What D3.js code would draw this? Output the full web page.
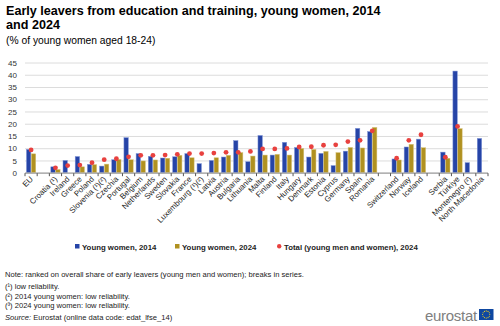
<!DOCTYPE html>
<html><head><meta charset="utf-8">
<script src="https://cdn.jsdelivr.net/npm/d3@7"></script>
<style>
body{margin:0;background:#fff;}
svg{display:block;font-family:"Liberation Sans",Arial,sans-serif;}
</style></head>
<body>
<svg id="c" width="500" height="326"></svg>
<script>
const categories = ["EU","","Croatia (¹)","Ireland","Greece","Poland","Slovenia (¹)(²)","Czechia","Portugal","Belgium","Netherlands","Sweden","Slovakia","France","Luxembourg (¹)(²)","Latvia","Austria","Bulgaria","Lithuania","Malta","Finland","Italy","Hungary","Denmark","Estonia","Cyprus","Germany","Spain","Romania","","Switzerland","Norway","Iceland","","Serbia","Türkiye","Montenegro (²)","North Macedonia"];
const women2014 = [9.5,null,2.4,5.0,6.6,3.4,2.7,5.3,14.3,7.8,6.7,6.0,6.5,7.8,3.7,5.0,6.4,13.1,4.5,15.2,7.2,12.4,10.3,6.4,7.9,2.9,8.8,18.1,16.8,null,5.6,10.5,13.7,null,8.4,41.5,4.1,14.0];
const women2024 = [7.7,null,1.3,null,2.4,3.3,3.5,5.4,5.3,4.8,5.2,5.9,7.1,6.1,null,6.1,7.1,8.2,6.8,7.2,7.5,7.2,9.9,9.5,8.7,8.2,10.3,10.1,18.5,null,5.2,11.6,10.2,null,5.9,18.0,null,null];
const total2024 = [9.3,null,2.0,2.9,3.1,4.1,5.3,5.7,6.5,7.1,7.1,7.2,7.5,7.8,7.8,8.0,8.3,8.3,8.7,9.7,9.7,9.9,10.5,10.6,11.2,11.4,12.7,13.2,17.1,null,5.9,13.2,15.5,null,6.3,18.9,null,null];
const yTicks = [0,5,10,15,20,25,30,35,40,45];
const seriesNames = ["Young women, 2014","Young women, 2024","Total (young men and women), 2024"];
const notes = ["Note: ranked on overall share of early leavers (young men and women); breaks in series.","(¹) low reliability.","(²) 2014 young women: low reliability.","(³) 2024 young women: low reliability."];

const BLUE="#2644A7", GOLD="#B09120", RED="#E8413F";
const svg = d3.select("#c");
const L=25, R=488, T=62, B=172.7;

// title
svg.append("text").attr("x",6).attr("y",15).attr("font-size",12.6).attr("font-weight","bold").attr("fill","#000")
  .text("Early leavers from education and training, young women, 2014");
svg.append("text").attr("x",6).attr("y",29).attr("font-size",12.6).attr("font-weight","bold").attr("fill","#000")
  .text("and 2024");
svg.append("text").attr("x",6).attr("y",43.5).attr("font-size",10.3).attr("fill","#000")
  .text("(% of young women aged 18-24)");

const x = d3.scaleBand().domain(d3.range(categories.length)).range([L,R]).padding(0);
const xs = d3.scaleBand().domain([0,1]).range([0,x.bandwidth()]).paddingInner(0.1).paddingOuter(0.3);
const y = d3.scaleLinear().domain([0,45]).range([B,T+0.5]);

// y axis with grid
const ya = svg.append("g").attr("transform",`translate(${L},0)`)
  .call(d3.axisLeft(y).tickValues(yTicks).tickSize(-(R-L)).tickPadding(8));
ya.select(".domain").remove();
ya.selectAll(".tick line").attr("stroke","#dcdcdc").attr("stroke-width",1);
ya.selectAll(".tick text").attr("font-size",8).attr("fill","#333").attr("font-family","Liberation Sans, Arial, sans-serif");

const g = svg.append("g");
// bars
categories.forEach((c,i)=>{
  if(women2014[i]!=null){
    g.append("rect").attr("x",x(i)+xs(0)).attr("width",xs.bandwidth())
     .attr("y",y(women2014[i])).attr("height",B-y(women2014[i]))
     .attr("fill",BLUE).attr("stroke","#7f93d6").attr("stroke-width",0.5);
  }
  if(women2024[i]!=null){
    g.append("rect").attr("x",x(i)+xs(1)).attr("width",xs.bandwidth())
     .attr("y",y(women2024[i])).attr("height",B-y(women2024[i]))
     .attr("fill",GOLD).attr("stroke","#d6c27a").attr("stroke-width",0.5);
  }
});
// x axis line
svg.append("line").attr("x1",L).attr("x2",R).attr("y1",B+0.5).attr("y2",B+0.5).attr("stroke","#a0a0a0").attr("stroke-width",1.2);
// boundary ticks
d3.range(categories.length+1).forEach(i=>{
  const xx = L + i*x.step();
  svg.append("line").attr("x1",xx).attr("x2",xx).attr("y1",B+0.5).attr("y2",B+3.5).attr("stroke","#555").attr("stroke-width",1);
});
// dots
categories.forEach((c,i)=>{
  if(total2024[i]!=null){
    g.append("circle").attr("cx",x(i)+x.bandwidth()/2).attr("cy",y(total2024[i])).attr("r",2.4).attr("fill",RED);
  }
});
// x labels
categories.forEach((c,i)=>{
  if(!c) return;
  const cx = x(i)+x.bandwidth()/2+2.5, cy = B+7;
  svg.append("text").attr("transform",`translate(${cx},${cy}) rotate(-45)`)
    .attr("text-anchor","end").attr("font-size",7.9).attr("fill","#222").text(c);
});

// legend
const leg = [{c:BLUE,t:seriesNames[0],x:75,sq:true},{c:GOLD,t:seriesNames[1],x:175,sq:true},{c:RED,t:seriesNames[2],x:277,sq:false}];
leg.forEach(d=>{
  if(d.sq) svg.append("rect").attr("x",d.x).attr("y",244).attr("width",4.5).attr("height",4.5).attr("fill",d.c);
  else svg.append("circle").attr("cx",d.x+2.2).attr("cy",246.3).attr("r",2.2).attr("fill",d.c);
  svg.append("text").attr("x",d.x+7).attr("y",249.5).attr("font-size",7.8).attr("font-weight","bold").attr("fill","#222").text(d.t);
});

// notes
const ny=[277,289,298.5,308];
notes.forEach((n,i)=>{
  svg.append("text").attr("x",5).attr("y",ny[i]).attr("font-size",7.6).attr("fill","#222").text(n);
});
const src = svg.append("text").attr("x",5).attr("y",320).attr("font-size",7.6).attr("fill","#222");
src.append("tspan").attr("font-style","italic").text("Source:");
src.append("tspan").text(" Eurostat (online data code: edat_lfse_14)");

// eurostat logo
svg.append("text").attr("x",425).attr("y",321).attr("font-size",15).attr("fill","#808080").attr("letter-spacing",-0.3).text("eurostat");
svg.append("rect").attr("x",479).attr("y",309).attr("width",14.5).attr("height",11).attr("fill","#0e47a1");
d3.range(12).forEach(k=>{
  const a=k*Math.PI/6;
  svg.append("circle").attr("cx",486.2+3.6*Math.cos(a)).attr("cy",314.5+3.6*Math.sin(a)).attr("r",0.55).attr("fill","#ffd617");
});
</script>
</body></html>
